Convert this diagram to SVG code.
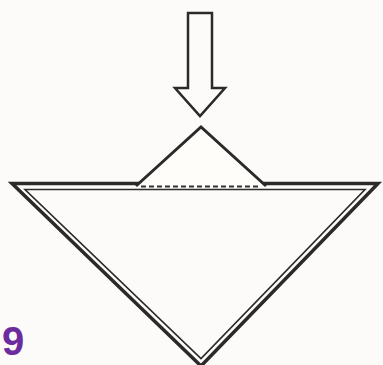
<svg xmlns="http://www.w3.org/2000/svg" width="383" height="365" viewBox="0 0 383 365">
<style>
.ln{fill:none;stroke:#2a2a2a;stroke-linejoin:miter}
</style>
<rect width="383" height="365" fill="#fdfbf9"/>
<text x="2" y="355" font-family="Liberation Sans, sans-serif" font-weight="bold" font-size="40" fill="#6b2c9e">9</text>
<g id="funnel">
<polygon points="12,183.5 378,183.5 201,366" fill="#fffdfa" class="ln" stroke-width="3.5"/>
<polygon points="25,189.5 365,189.5 201,358.5" class="ln" stroke-width="1.6" stroke="#3a3a3a"/>
</g>
<g id="pile">
<polygon points="201,127 137,186.5 265,186.5" fill="#fffdfa"/>
<polyline points="136,186 201,127 266,186" class="ln" stroke-width="3"/>
<line x1="141" y1="186.5" x2="261" y2="186.5" stroke="#333" stroke-width="2" stroke-dasharray="5,3"/>
</g>
<g id="arrow">
<polygon points="188,13 212,13 212,88 225,88 200,116 175,88 188,88" fill="#fffdfa" class="ln" stroke-width="2.5" stroke="#3a3a3a"/>
</g>
</svg>
